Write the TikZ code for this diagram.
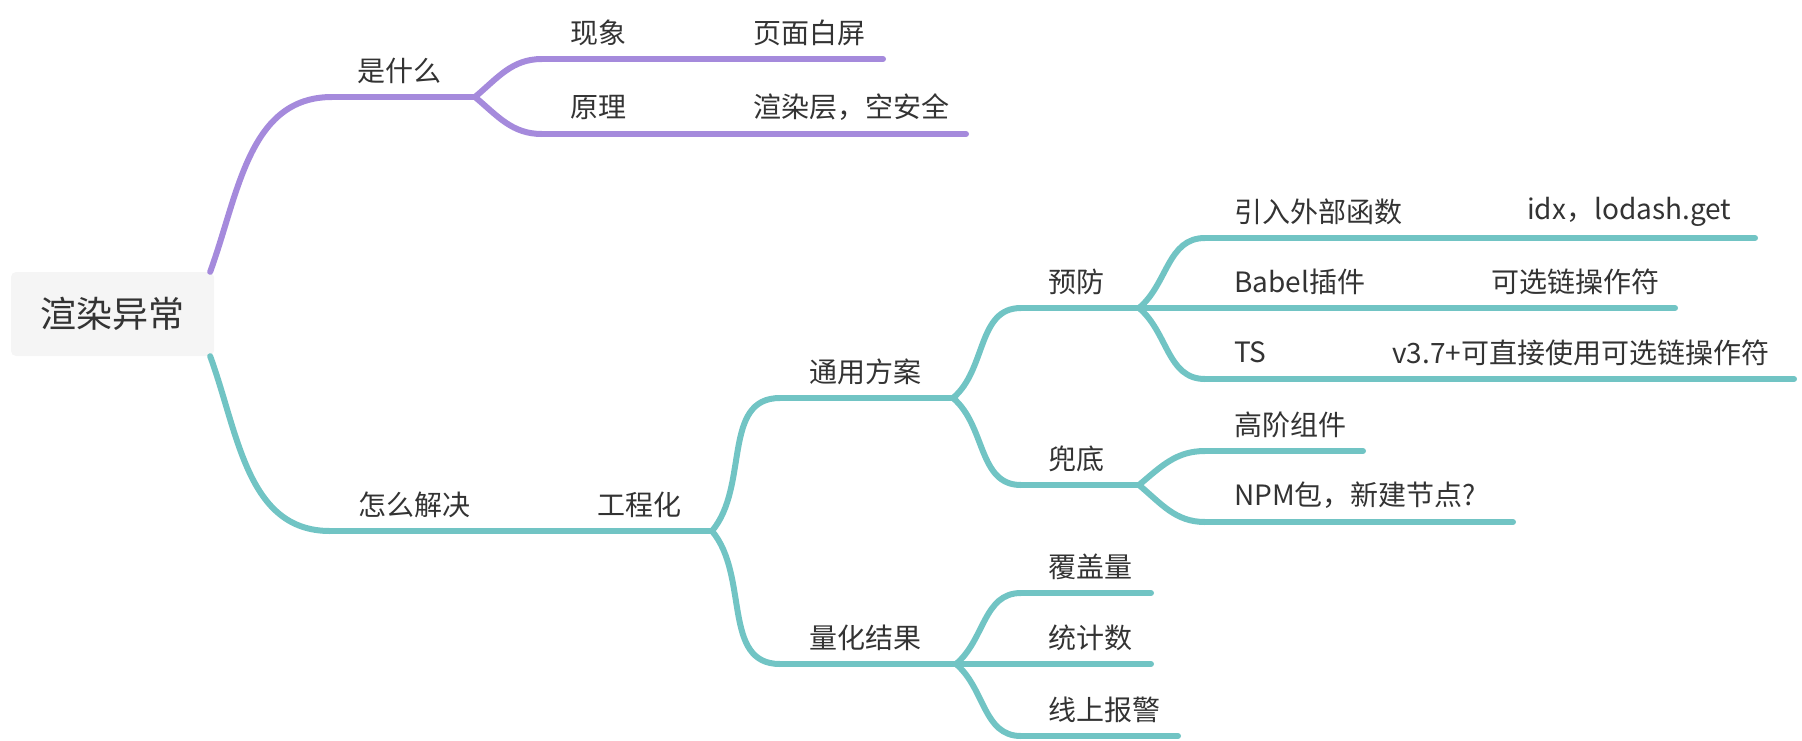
\documentclass[tikz,border=0pt]{standalone}
\usepackage{fontspec}
\setmainfont{Noto Sans CJK SC}
\usepackage{tikz}
\definecolor{mmpurple}{RGB}{165,138,220}
\definecolor{mmteal}{RGB}{113,196,196}
\definecolor{mmtext}{RGB}{51,51,51}
\definecolor{mmroot}{RGB}{245,245,245}
\usetikzlibrary{topaths}

\begin{document}
\begin{tikzpicture}[x=1pt, y=-1pt,
				topic/.style={anchor=west, inner sep=0pt, text=mmtext, font=\fontsize{28}{34}\selectfont},
				rootbox/.style={fill=mmroot, rounded corners=5pt, minimum width=203pt, minimum height=84pt,
					inner sep=0pt, text=mmtext, font=\fontsize{36}{42}\selectfont},
				branch/.style={line width=6pt, line cap=round},
				purpleline/.style={branch, draw=mmpurple},
				tealline/.style={branch, draw=mmteal},
				goup/.style={out=40, in=180},
				godown/.style={out=-40, in=180}]
				%Bildbereich
				\useasboundingbox (0,0) rectangle (1802,740);
				% Wurzel
				\node[rootbox] (root) at (112.5,314) {渲染异常};
				% Themen oben (lila): Name/Text-x/Linie-Anfang/Linie-Ende/Linie-y/Text
				\foreach \n/\tx/\xs/\xe/\ly/\txt in {
					was/357/332/475/97/是什么,
					xian/570/542/641/59/现象,
					yemian/753/641/883/59/页面白屏,
					yuan/570/542/641/134/原理,
					xuan/753/641/966/134/渲染层，空安全}{
					\node[topic] (\n) at (\tx,\ly-26.5) {\txt};
					\coordinate (\n-s) at (\xs,\ly);
					\coordinate (\n-e) at (\xe,\ly);
					\draw[purpleline] (\n-s) -- (\n-e);
				}
				% Themen unten (tuerkis)
				\foreach \n/\tx/\xs/\xe/\ly/\txt in {
					wie/358/330/486/531/怎么解决,
					gcx/597/486/712/531/工程化,
					tong/809/780/953/398/通用方案,
					yufang/1048/1021/1139/308/预防,
					yinru/1234/1205/1416/238/引入外部函数,
					idx/1527/1416/1755/238/idx，lodash.get,
					babel/1234/1139/1379/308/Babel插件,
					kexuan/1491/1379/1675/308/可选链操作符,
					ts/1234/1205/1280/379/TS,
					vdrei/1392/1280/1794/379/v3.7+可直接使用可选链操作符,
					doudi/1048/1021/1139/485/兜底,
					gaojie/1234/1205/1363/451/高阶组件,
					npm/1234/1205/1513/522/NPM包，新建节点?,
					liang/809/780/956/664/量化结果,
					fugai/1048/1021/1151/593/覆盖量,
					tongji/1048/956/1151/664/统计数,
					xianshang/1048/1021/1178/736/线上报警}{
					\node[topic] (\n) at (\tx,\ly-26.5) {\txt};
					\coordinate (\n-s) at (\xs,\ly);
					\coordinate (\n-e) at (\xe,\ly);
					\draw[tealline] (\n-s) -- (\n-e);
				}
				% Verbindungen
				\draw[purpleline] ([xshift=-4pt]root.north east) to[out=70, in=180] (was-s);
				\draw[tealline] ([xshift=-4pt]root.south east) to[out=-70, in=180] (wie-s);
				\draw[purpleline] (was-e) to[goup] (xian-s);
				\draw[purpleline] (was-e) to[godown] (yuan-s);
				\draw[tealline] (gcx-e) to[out=50, in=180] (tong-s);
				\draw[tealline] (gcx-e) to[out=-50, in=180] (liang-s);
				\draw[tealline] (tong-e) to[goup] (yufang-s);
				\draw[tealline] (tong-e) to[godown] (doudi-s);
				\draw[tealline] (yufang-e) to[goup] (yinru-s);
				\draw[tealline] (yufang-e) to[godown] (ts-s);
				\draw[tealline] (doudi-e) to[goup] (gaojie-s);
				\draw[tealline] (doudi-e) to[godown] (npm-s);
				\draw[tealline] (liang-e) to[goup] (fugai-s);
				\draw[tealline] (liang-e) to[godown] (xianshang-s);
			\end{tikzpicture}
\end{document}
